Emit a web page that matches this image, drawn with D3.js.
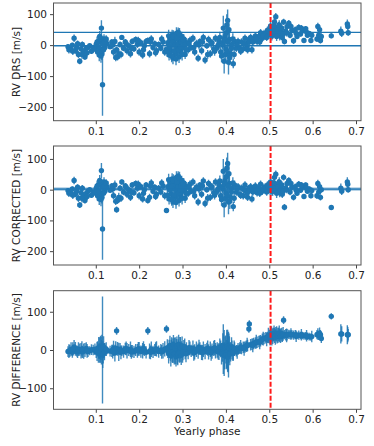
<!DOCTYPE html>
<html>
<head>
<meta charset="utf-8">
<script src="https://cdn.jsdelivr.net/npm/d3@7"></script>
<style>
  body { margin: 0; background: #fff; }
  svg { display: block; font-family: "DejaVu Sans", sans-serif; }
</style>
</head>
<body>
<div id="chart"></div>
<script>
// observations (yearly phase), one entry per spectrum
const phase = [
  0.036,0.040,0.043,0.046,0.050,0.053,0.056,0.060,0.063,0.066,0.069,0.072,0.075,0.078,0.082,0.086,0.090,0.094,
  0.101,0.104,0.106,0.108,0.110,0.111,0.113,0.114,0.1155,0.117,0.119,0.121,0.123,0.126,
  0.133,0.137,0.141,0.144,0.148,0.150,0.153,0.156,0.160,0.164,0.168,0.172,0.176,0.180,0.184,0.188,0.192,0.196,
  0.200,0.204,0.208,0.212,0.216,0.220,0.224,0.228,0.232,0.236,0.240,0.245,0.250,0.255,0.259,0.263,
  0.266,0.269,0.272,0.274,0.276,0.278,0.280,0.282,0.284,0.286,0.288,0.290,0.292,0.294,0.296,0.298,0.300,0.303,0.306,0.309,
  0.313,0.317,0.320,0.324,0.328,0.332,0.336,0.340,0.344,0.348,0.352,0.356,0.360,0.364,0.368,0.372,0.376,0.380,0.384,
  0.388,0.392,0.394,0.396,0.398,0.400,0.402,0.404,0.406,0.408,0.411,0.414,0.417,0.420,
  0.424,0.428,0.432,0.436,0.440,0.444,0.447,0.450,0.453,0.454,0.457,0.460,0.464,0.468,0.472,0.476,0.480,0.484,0.488,0.492,0.496,0.500,
  0.503,0.506,0.509,0.512,0.515,0.518,0.521,0.524,0.527,0.530,0.533,0.535,0.538,0.541,0.545,0.548,0.552,0.556,0.560,0.564,0.568,0.572,0.576,0.580,0.584,0.588,0.592,0.596,
  0.610,0.612,0.614,0.616,0.618,0.620,0.643,0.665,0.667,0.680,0.681,0.682,
  0.038,0.047,0.058,0.068,0.080,0.098,0.103,0.107,0.109,0.112,
  0.116,0.118,0.120,0.124,0.139,0.146,0.158,0.170,0.182,0.198,
  0.210,0.226,0.238,0.252,0.265,0.268,0.271,0.273,0.275,0.277,
  0.279,0.281,0.283,0.285,0.287,0.289,0.291,0.293,0.295,0.297,
  0.299,0.301,0.305,0.308,0.315,0.326,0.338,0.346,0.358,0.366,
  0.374,0.382,0.386,0.390,0.393,0.397,0.399,0.401,0.403,0.405,
  0.407,0.409,0.413,0.416,0.419,0.426,0.434,0.442,0.449,0.462,
  0.470,0.478,0.486,0.494,0.498,0.502,0.505,0.508,0.511,0.514,
  0.517,0.520,0.523,0.526,0.529,0.532,0.540,0.550,0.562,0.574,
  0.586,0.598
];
const rvDrs = [
  -5,-10,-14,0,22,-18,-8,-30,-52,-12,2,-22,-38,-10,-8,-2,-20,-10,
  3,-22,12,-32,18,-12,55,-28,-128,8,20,-8,15,5,
  -5,10,-22,12,-15,-38,-28,2,25,-10,10,-18,-2,-28,12,-12,18,3,
  -22,8,-32,-2,12,15,-28,20,-8,5,-18,2,-10,10,-22,-13,
  8,-32,22,-18,32,-42,2,18,-28,38,-12,42,-38,12,-22,28,-8,20,-30,8,
  -15,15,-8,22,-22,5,-42,12,-18,25,-48,-2,18,-28,8,-12,22,-8,12,
  -22,8,55,-52,28,-12,65,80,-55,18,-28,2,-60,12,
  -10,12,-10,10,-12,22,5,-15,18,10,25,-15,18,30,12,28,40,22,38,33,48,40,
  62,30,55,75,92,38,60,30,50,25,75,12,45,60,71,32,48,14,50,28,57,36,46,15,53,32,38,15,
  20,60,32,50,15,28,30,45,38,68,60,40,
  -15,-20,5,-30,-25,-12,10,-5,28,-35,
  5,-15,10,20,0,-40,-30,5,-10,15,
  -15,10,-25,20,-20,30,-5,15,-35,10,
  28,-20,0,-45,22,5,-15,35,-5,10,
  -30,18,0,-15,5,-8,0,10,-30,5,
  -20,0,25,-35,0,15,-30,40,-20,10,
  50,-40,-10,20,-30,0,-20,5,-5,10,
  20,10,30,25,45,35,50,35,62,45,
  28,48,65,40,55,35,40,60,38,55,
  42,32
];
const rvCorr = [
  -3,-8,-12,2,30,-15,-5,-28,-50,-10,5,-20,-35,-12,-5,0,-18,-8,
  5,-20,15,-30,20,-10,62,-25,-128,10,25,-5,18,8,
  -2,12,-20,15,-65,-35,-25,5,25,-8,12,-15,0,-25,15,-10,20,5,
  -20,10,-30,0,15,-35,-25,22,-5,8,-15,5,-8,12,-20,-68,
  10,-30,25,-15,35,-40,5,20,-25,40,-10,45,-35,15,-20,30,-5,22,-28,10,
  -12,18,-5,25,-20,8,-40,15,-15,28,-45,0,20,-25,10,-10,25,-5,15,
  -20,10,60,-50,30,-10,70,85,-40,20,-25,5,-55,15,
  -8,10,-15,5,-20,15,-5,-25,5,-3,10,-30,0,12,-10,5,18,-5,8,0,15,5,
  25,-5,15,40,50,0,20,-10,10,-15,40,-57,5,20,30,-8,8,-25,10,-12,18,-2,8,-22,15,-5,2,-20,
  -20,20,-8,10,-25,0,-58,5,-5,25,18,0,
  -12,-18,8,-28,-22,-10,12,-3,30,-32,
  8,-12,12,22,2,-38,-28,8,-8,18,
  -12,12,-22,22,-18,32,-2,18,-32,12,
  30,-18,2,-42,25,8,-12,38,-2,12,
  -28,20,2,-12,8,-5,2,12,-28,8,
  -18,2,28,-32,2,18,-28,42,-18,12,
  52,-38,-8,22,-28,2,-18,0,-12,-8,
  0,-12,2,-8,10,-2,12,-5,22,5,
  -12,8,25,0,15,-5,0,20,-2,15,
  5,-3
];
const rvDiff = [
  -4,-2,2,-6,8,3,-3,2,1,-2,-5,-3,0,4,-4,-2,1,0,
  -5,3,-8,5,-3,2,-6,10,0,-10,-2,3,-3,-1,
  -3,-2,4,-8,50,3,-5,2,-2,-4,3,-2,0,2,-3,-5,0,-2,
  3,-4,-2,0,-6,50,-3,2,-5,0,3,-4,0,-2,3,55,
  -3,5,-8,2,-10,6,-5,10,-12,4,-15,8,-6,12,-10,3,-8,6,-4,2,
  -6,4,-2,5,-5,2,-3,4,-6,2,-4,3,-5,2,-3,4,-2,0,-4,
  3,-6,2,-8,5,-10,3,-2,-12,6,-5,0,-8,2,
  -2,3,5,4,7,8,10,12,55,68,14,15,17,18,20,22,24,28,30,32,33,35,
  36,30,40,38,42,35,40,38,42,36,78,40,40,40,41,40,40,39,40,38,39,38,38,37,37,36,35,34,
  40,42,38,44,40,30,88,42,42,40,40,40,
  -3,2,-5,3,-2,2,-4,6,-8,4,
  -12,8,-5,2,-4,5,-6,4,-5,3,
  5,-6,2,-5,6,-10,12,-15,8,-6,
  14,-10,5,-18,10,-12,15,-8,6,-14,
  10,-5,8,-10,6,-8,7,-7,5,-8,
  6,-5,8,-10,12,-15,8,-12,10,-18,
  5,-10,8,-6,5,-5,8,3,14,12,
  22,20,30,28,38,32,42,36,44,34,
  42,38,44,36,40,42,38,42,36,40,
  37,35
];
const rvErr = [
  8,10,12,8,12,10,8,12,10,12,10,12,10,10,8,6,8,8,
  12,15,18,20,15,25,25,20,100,18,15,12,10,8,
  8,10,12,15,10,12,15,10,8,10,10,12,10,12,10,10,10,12,
  12,10,12,10,10,10,12,12,10,10,12,10,10,12,12,8,
  15,18,15,20,18,20,22,18,20,20,18,15,20,18,18,15,20,15,15,15,
  12,12,10,12,12,12,12,10,12,12,12,10,12,12,12,12,12,12,15,
  18,20,40,40,25,20,35,35,40,25,20,20,15,15,
  12,12,12,12,12,12,12,12,10,10,12,12,12,12,12,12,12,12,12,12,12,15,
  15,15,15,15,12,15,15,15,12,12,10,10,12,12,10,10,10,10,10,8,10,8,8,8,8,8,8,8,
  10,12,10,12,10,10,8,15,12,15,12,10,
  12,12,10,14,12,10,18,20,18,22,
  25,20,15,12,12,12,12,12,12,12,
  12,12,12,12,18,20,20,22,20,22,
  20,22,22,20,20,22,20,20,22,20,
  20,18,18,18,14,14,14,14,14,14,
  14,15,18,20,25,28,25,30,28,30,
  30,25,20,18,15,12,12,12,12,12,
  12,12,12,12,15,15,15,15,15,15,
  15,15,15,12,12,12,12,10,10,10,
  10,10
];
const diffErr = [
  14,16,18,14,18,18,14,18,16,20,16,20,18,16,14,12,14,14,
  16,20,25,28,20,35,32,30,140,25,20,15,12,10,
  14,16,20,22,10,18,24,16,14,16,16,20,16,20,16,16,16,18,
  18,16,20,16,16,10,20,20,16,16,20,16,16,20,20,10,
  18,22,20,25,22,25,28,22,25,25,22,20,25,22,22,20,25,20,20,18,
  18,18,16,20,20,20,20,16,20,20,20,16,20,20,20,20,20,20,22,
  22,25,65,60,30,25,50,55,60,30,25,25,20,18,
  15,15,15,15,15,15,15,15,10,10,15,15,15,15,15,15,15,15,15,15,15,18,
  18,18,18,20,18,18,18,18,15,15,10,12,15,15,12,12,12,12,12,10,12,10,10,10,10,10,10,10,
  12,15,12,15,12,12,8,25,20,25,20,15,
  18,18,16,20,18,15,25,28,25,30,
  35,28,22,18,18,18,18,18,18,18,
  18,18,18,18,22,25,25,28,25,28,
  25,28,28,25,25,28,25,25,28,25,
  25,22,22,22,20,20,20,20,20,20,
  20,20,22,28,32,35,30,38,35,40,
  38,30,25,22,20,18,18,18,18,18,
  18,18,18,18,20,20,20,20,20,20,
  20,20,20,18,18,18,18,15,15,15,
  15,15
];
const drsLevels = [41, -2];
const corrLevel = 2;
const corrBand = [-3, 7];
const markPhase = 0.503;
const xTicks = [0.1, 0.2, 0.3, 0.4, 0.5, 0.6, 0.7];
const yTicksRv = [-200, -100, 0, 100];
const yTicksDiff = [-100, 0, 100];

const W = 374, H = 446;
const blue = "#1f77b4";
const left = 53.5, right = 361;

const panels = [
  { label: "RV DRS [m/s]", vals: rvDrs, errs: rvErr, top: 3, bottom: 120.7, dom: [-244, 136], ticks: yTicksRv },
  { label: "RV CORRECTED [m/s]", vals: rvCorr, errs: rvErr, top: 146, bottom: 265, dom: [-245, 142], ticks: yTicksRv },
  { label: "RV DIFFERENCE [m/s]", vals: rvDiff, errs: diffErr, top: 290.7, bottom: 409.3, dom: [-155, 155], ticks: yTicksDiff }
];

const svg = d3.select("#chart").append("svg")
  .attr("width", W)
  .attr("height", H);

const x = d3.scaleLinear().domain([0.0025, 0.7115]).range([left, right]);
const minus = d => d < 0 ? "\u2212" + Math.abs(d) : String(d);

panels.forEach((p, i) => {
  const y = d3.scaleLinear().domain(p.dom).range([p.bottom, p.top]);
  const g = svg.append("g");

  g.append("clipPath").attr("id", "clip" + i)
    .append("rect")
    .attr("x", left).attr("y", p.top)
    .attr("width", right - left).attr("height", p.bottom - p.top);

  const plot = g.append("g").attr("clip-path", `url(#clip${i})`);

  if (i === 1) {
    plot.append("rect")
      .attr("x", left).attr("width", right - left)
      .attr("y", y(corrBand[1])).attr("height", y(corrBand[0]) - y(corrBand[1]))
      .attr("fill", blue).attr("opacity", 0.55);
  }

  plot.selectAll(".err")
    .data(phase)
    .enter().append("line")
    .attr("x1", d => x(d)).attr("x2", d => x(d))
    .attr("y1", (d, j) => y(p.vals[j] - p.errs[j]))
    .attr("y2", (d, j) => y(p.vals[j] + p.errs[j]))
    .attr("stroke", blue)
    .attr("stroke-opacity", 0.85)
    .attr("stroke-width", 1.4);

  plot.selectAll(".dot")
    .data(phase)
    .enter().append("circle")
    .attr("cx", d => x(d))
    .attr("cy", (d, j) => y(p.vals[j]))
    .attr("r", 2.7)
    .attr("fill", blue);

  if (i === 0) {
    drsLevels.forEach(v => {
      plot.append("line")
        .attr("x1", left).attr("x2", right)
        .attr("y1", y(v)).attr("y2", y(v))
        .attr("stroke", blue).attr("stroke-width", 1.3);
    });
  }
  if (i === 1) {
    plot.append("line")
      .attr("x1", left).attr("x2", right)
      .attr("y1", y(corrLevel)).attr("y2", y(corrLevel))
      .attr("stroke", blue).attr("stroke-width", 1.3);
  }

  plot.append("line")
    .attr("x1", x(markPhase)).attr("x2", x(markPhase))
    .attr("y1", p.top).attr("y2", p.bottom)
    .attr("stroke", "#ff1a1a")
    .attr("stroke-width", 2)
    .attr("stroke-dasharray", "5,2");

  const xa = g.append("g")
    .attr("transform", `translate(0,${p.bottom})`)
    .call(d3.axisBottom(x).tickValues(xTicks).tickFormat(d3.format(".1f")).tickSize(3.5).tickPadding(3));
  const ya = g.append("g")
    .attr("transform", `translate(${left},0)`)
    .call(d3.axisLeft(y).tickValues(p.ticks).tickFormat(minus).tickSize(3.5).tickPadding(3));
  [xa, ya].forEach(a => {
    a.select(".domain").remove();
    a.selectAll("line").attr("stroke", "#444");
    a.selectAll("text").attr("fill", "#222").style("font-size", "10.5px").style("font-family", "DejaVu Sans");
  });

  g.append("rect")
    .attr("x", left).attr("y", p.top)
    .attr("width", right - left).attr("height", p.bottom - p.top)
    .attr("fill", "none").attr("stroke", "#555").attr("stroke-width", 1);

  g.append("text")
    .attr("transform", `translate(16,${(p.top + p.bottom) / 2}) rotate(-90)`)
    .attr("text-anchor", "middle")
    .attr("dy", "0.35em")
    .attr("fill", "#222")
    .style("font-size", "10.5px")
    .text(p.label);
});

svg.append("text")
  .attr("x", (left + right) / 2)
  .attr("y", 434.5)
  .attr("text-anchor", "middle")
  .attr("fill", "#222")
  .style("font-size", "10.5px")
  .text("Yearly phase");
</script>
</body>
</html>
